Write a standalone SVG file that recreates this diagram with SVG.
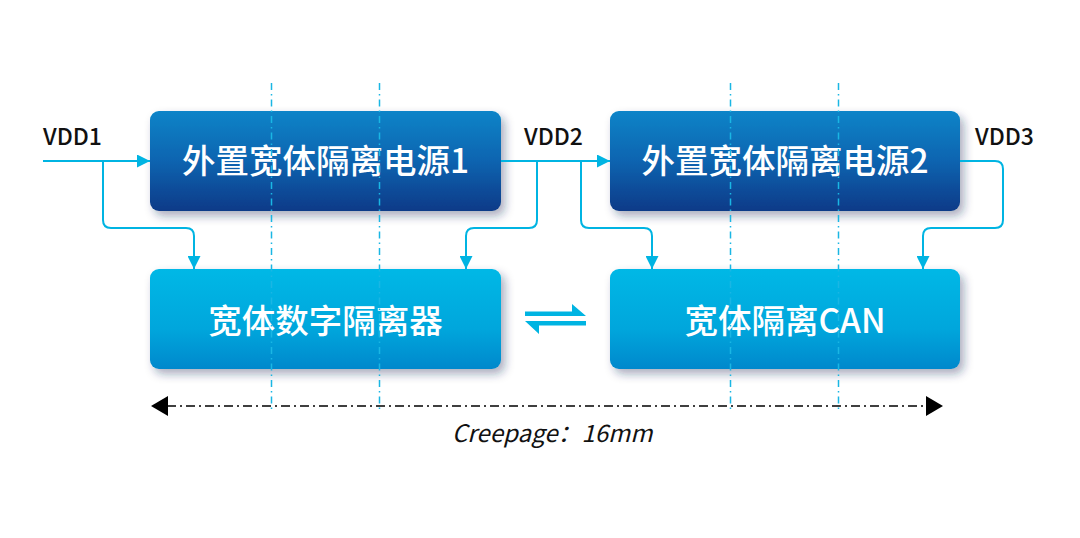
<svg xmlns="http://www.w3.org/2000/svg" width="1080" height="538" viewBox="0 0 1080 538">
  <defs>
    <linearGradient id="gTop" x1="0" y1="0" x2="0" y2="1">
      <stop offset="0" stop-color="#0784c8"/>
      <stop offset="0.5" stop-color="#0a64b0"/>
      <stop offset="1" stop-color="#113a88"/>
    </linearGradient>
    <linearGradient id="gBot" x1="0" y1="0" x2="0" y2="1">
      <stop offset="0" stop-color="#00b8e6"/>
      <stop offset="0.6" stop-color="#02a6dc"/>
      <stop offset="1" stop-color="#0688cc"/>
    </linearGradient>
    <filter id="shadow" x="-10%" y="-20%" width="125%" height="150%">
      <feDropShadow dx="4" dy="5" stdDeviation="5" flood-color="#1b2a55" flood-opacity="0.38"/>
    </filter>
    <marker id="arr" viewBox="0 0 10 10" refX="10" refY="5" markerUnits="userSpaceOnUse" markerWidth="13" markerHeight="13" orient="auto">
      <path d="M0,0 L10,5 L0,10 z" fill="#00b4e2"/>
    </marker>
    <style>
      .node-text { font-family: "Noto Sans CJK SC", "Noto Sans", sans-serif; font-size: 33.5px; font-weight: 500; fill: #ffffff; text-anchor: middle; }
      .label { font-family: "Noto Sans CJK SC", "Noto Sans", sans-serif; font-size: 23px; font-weight: 500; fill: #111111; }
      .note { font-family: "Noto Sans CJK SC", "Noto Sans", sans-serif; font-size: 24px; font-style: italic; fill: #111111; }
      .conn { fill: none; stroke: #00b4e2; stroke-width: 2; }
      .vline { stroke: #1ab6e4; stroke-width: 1.5; stroke-dasharray: 7 4 1.5 4; }
      .hline { stroke: #000000; stroke-width: 1.5; stroke-dasharray: 9 4 2 4; }
    </style>
  </defs>
  <rect width="1080" height="538" fill="#ffffff"/>

  <g id="node-power1">
    <rect x="150" y="111" width="351" height="100" rx="9" fill="url(#gTop)" filter="url(#shadow)"/>
    <text class="node-text" x="325.5" y="173">外置宽体隔离电源1</text>
  </g>
  <g id="node-power2">
    <rect x="610" y="111" width="350" height="100" rx="9" fill="url(#gTop)" filter="url(#shadow)"/>
    <text class="node-text" x="785" y="173">外置宽体隔离电源2</text>
  </g>
  <g id="node-digital-isolator">
    <rect x="150" y="269" width="351" height="100" rx="9" fill="url(#gBot)" filter="url(#shadow)"/>
    <text class="node-text" x="325.5" y="333">宽体数字隔离器</text>
  </g>
  <g id="node-isolated-can">
    <rect x="610" y="269" width="350" height="100" rx="9" fill="url(#gBot)" filter="url(#shadow)"/>
    <text class="node-text" x="785" y="333">宽体隔离CAN</text>
  </g>

  <g id="labels">
    <text class="label" x="43" y="145">VDD1</text>
    <text class="label" x="524" y="145">VDD2</text>
    <text class="label" x="975" y="145">VDD3</text>
  </g>

  <g id="connectors">
    <path class="conn" d="M43,161 H150" marker-end="url(#arr)"/>
    <path class="conn" d="M103,161 V220 Q103,228 111,228 H186 Q194,228 194,236 V269" marker-end="url(#arr)"/>
    <path class="conn" d="M501,161 H610" marker-end="url(#arr)"/>
    <path class="conn" d="M537,161 V220 Q537,228 529,228 H474 Q466,228 466,236 V269" marker-end="url(#arr)"/>
    <path class="conn" d="M581,161 V220 Q581,228 589,228 H644 Q652,228 652,236 V269" marker-end="url(#arr)"/>
    <path class="conn" d="M960,161 H995 Q1003,161 1003,169 V220 Q1003,228 995,228 H931 Q923,228 923,236 V269" marker-end="url(#arr)"/>
    <g id="bidirectional" fill="#00b4e2">
      <polygon points="525,311.5 572,311.5 572,304 586,316 525,316"/>
      <polygon points="586,321 586,325.5 539,325.5 539,334 525,321"/>
    </g>
  </g>

  <g id="creepage">
    <line class="vline" x1="271.5" y1="83" x2="271.5" y2="413"/>
    <line class="vline" x1="379.5" y1="83" x2="379.5" y2="413"/>
    <line class="vline" x1="730.5" y1="83" x2="730.5" y2="413"/>
    <line class="vline" x1="838.5" y1="83" x2="838.5" y2="413"/>
    <line class="hline" x1="167" y1="406" x2="927" y2="406"/>
    <polygon points="151,406 168,396 168,416" fill="#000000"/>
    <polygon points="943,406 926,396 926,416" fill="#000000"/>
    <text class="note" x="452" y="442">Creepage：16mm</text>
  </g>
</svg>
